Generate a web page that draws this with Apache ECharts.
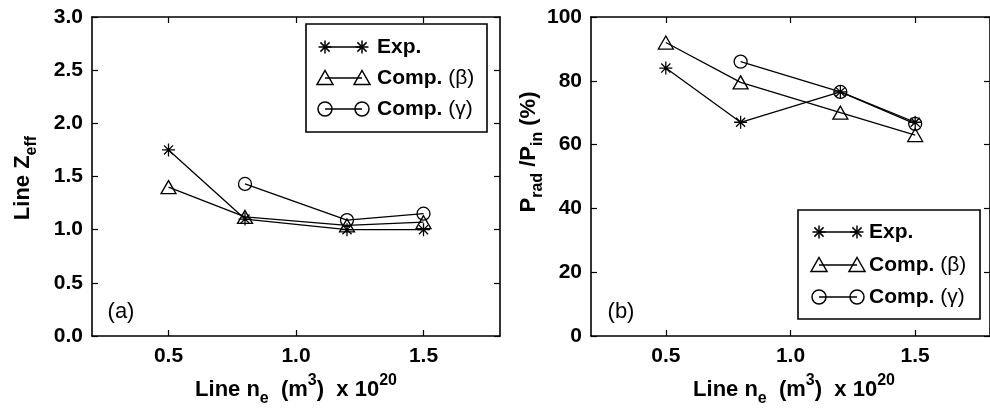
<!DOCTYPE html>
<html>
<head>
<meta charset="utf-8">
<script src="https://cdn.jsdelivr.net/npm/echarts@6/dist/echarts.min.js"></script>
<style>
  html, body { margin: 0; padding: 0; background: #fff; }
  #chart { width: 990px; height: 408px; }
</style>
</head>
<body>
<div id="chart"></div>
<script>
// line density (x 10^20 m^-3)
var neAll = [0.5, 0.8, 1.2, 1.5]
var neGamma = [0.8, 1.2, 1.5]
var xTicks = [0.5, 1.0, 1.5]

// (a) line Zeff
var zeffExp = [1.75, 1.10, 1.00, 1.00]
var zeffBeta = [1.40, 1.12, 1.04, 1.07]
var zeffGamma = [1.43, 1.09, 1.15]

// (b) Prad / Pin (%)
var pradExp = [84, 67, 76.5, 67]
var pradBeta = [92, 79.5, 70, 63]
var pradGamma = [86, 76.5, 66.5]

var legendNames = ['Exp.', 'Comp. ', 'Comp. ']
var legendGreek = ['', '(β)', '(γ)']

var FONT = '"Liberation Sans", Arial, Helvetica, sans-serif'
var BLACK = '#000'

var chart = echarts.init(document.getElementById('chart'), null, {renderer: 'canvas'})

const pairs = (xs, ys) => xs.map((x, i) => [x, ys[i]])

const makeX = (grid, bottom) => {
    return {
        type: 'value',
        gridIndex: grid,
        position: bottom ? 'bottom' : 'top',
        min: 0.2,
        max: 1.8,
        axisLine: {show: true, onZero: false, lineStyle: {color: BLACK, width: 1.6}},
        axisTick: {show: true, inside: true, length: 6, customValues: xTicks, lineStyle: {color: BLACK, width: 1.2}},
        axisLabel: {
            show: bottom,
            customValues: xTicks,
            margin: 10,
            color: BLACK,
            fontFamily: FONT,
            fontWeight: 'bold',
            fontSize: 21,
            formatter: v => v.toFixed(1)
        },
        splitLine: {show: false}
    }
}

const makeY = (grid, left, max, step, digits) => {
    return {
        type: 'value',
        gridIndex: grid,
        position: left ? 'left' : 'right',
        min: 0,
        max: max,
        interval: step,
        axisLine: {show: true, onZero: false, lineStyle: {color: BLACK, width: 1.6}},
        axisTick: {show: true, inside: true, length: 6, lineStyle: {color: BLACK, width: 1.2}},
        axisLabel: {
            show: left,
            margin: 9,
            color: BLACK,
            fontFamily: FONT,
            fontWeight: 'bold',
            fontSize: 21,
            formatter: v => v.toFixed(digits)
        },
        splitLine: {show: false}
    }
}

var STAR = 'path://M0,-10L0,10M-10,0L10,0M-7,-7L7,7M-7,7L7,-7'

const makeSeries = (name, xs, ys, xi, yi, symbol, size) => {
    return {
        name: name,
        type: 'line',
        xAxisIndex: xi,
        yAxisIndex: yi,
        data: pairs(xs, ys),
        symbol: symbol,
        symbolSize: size,
        showAllSymbol: true,
        lineStyle: {color: BLACK, width: 1.3},
        itemStyle: {color: 'transparent', borderColor: BLACK, borderWidth: 1.3},
        emphasis: {disabled: true},
        z: 3
    }
}

// hand drawn legend box, like the matlab one
const legendBox = (left, top, w, h, x1, x2, tx, rows) => {
    let kids = [{
        type: 'rect',
        shape: {x: left, y: top, width: w, height: h},
        style: {fill: '#fff', stroke: BLACK, lineWidth: 1.6},
        z: 10
    }]
    for (let r = 0; r < 3; r++) {
        let y = top + rows[r]
        let ax = left + x1
        let bx = left + x2
        kids.push({type: 'line', shape: {x1: ax, y1: y, x2: bx, y2: y}, style: {stroke: BLACK, lineWidth: 1.3}, z: 11})
        ;[ax, bx].forEach(cx => {
            if (r === 0) {
                let d = 6.5, e = 4.6
                kids.push({type: 'line', shape: {x1: cx, y1: y - d, x2: cx, y2: y + d}, style: {stroke: BLACK, lineWidth: 1.5}, z: 11})
                kids.push({type: 'line', shape: {x1: cx - d, y1: y, x2: cx + d, y2: y}, style: {stroke: BLACK, lineWidth: 1.5}, z: 11})
                kids.push({type: 'line', shape: {x1: cx - e, y1: y - e, x2: cx + e, y2: y + e}, style: {stroke: BLACK, lineWidth: 1.5}, z: 11})
                kids.push({type: 'line', shape: {x1: cx - e, y1: y + e, x2: cx + e, y2: y - e}, style: {stroke: BLACK, lineWidth: 1.5}, z: 11})
            } else if (r === 1) {
                kids.push({type: 'polygon', shape: {points: [[cx, y - 7.5], [cx + 8, y + 6.5], [cx - 8, y + 6.5]]}, style: {fill: 'none', stroke: BLACK, lineWidth: 1.5}, z: 11})
            } else {
                kids.push({type: 'circle', shape: {cx: cx, cy: y, r: 7}, style: {fill: 'none', stroke: BLACK, lineWidth: 1.5}, z: 11})
            }
        })
        kids.push({
            type: 'text',
            x: left + tx,
            y: y,
            style: {
                text: '{b|' + legendNames[r] + '}' + (legendGreek[r] ? '{g|' + legendGreek[r] + '}' : ''),
                align: 'left',
                verticalAlign: 'middle',
                rich: {
                    b: {fontFamily: FONT, fontWeight: 'bold', fontSize: 21, fill: BLACK},
                    g: {fontFamily: FONT, fontWeight: 'normal', fontSize: 21, fill: BLACK}
                }
            },
            z: 11
        })
    }
    return {type: 'group', children: kids}
}

var richTitle = {
    m: {fontFamily: FONT, fontWeight: 'bold', fontSize: 22, lineHeight: 34, fill: BLACK},
    sub: {fontFamily: FONT, fontWeight: 'bold', fontSize: 16, lineHeight: 15, verticalAlign: 'bottom', fill: BLACK},
    sup: {fontFamily: FONT, fontWeight: 'bold', fontSize: 16, lineHeight: 15, verticalAlign: 'top', fill: BLACK},
    sup2: {fontFamily: FONT, fontWeight: 'bold', fontSize: 16, lineHeight: 9, verticalAlign: 'top', fill: BLACK}
}

var xTitle = '{m|Line n}{sub|e}{m|  (m}{sup|3}{m|)  x 10}{sup2|20}'

const titleText = (x, y, text, rot) => {
    return {
        type: 'text',
        x: x,
        y: y,
        rotation: rot || 0,
        style: {text: text, align: 'center', verticalAlign: 'middle', rich: richTitle},
        z: 5
    }
}

const panelLabel = (x, y, t) => {
    return {
        type: 'text', x: x, y: y,
        style: {text: t, align: 'center', verticalAlign: 'middle', fontFamily: FONT, fontSize: 22, fill: BLACK},
        z: 5
    }
}

var option = {
    animation: false,
    backgroundColor: '#fff',
    grid: [
        {left: 92, top: 17, width: 408, height: 319},
        {left: 591, top: 17, width: 405, height: 319}
    ],
    xAxis: [makeX(0, true), makeX(0, false), makeX(1, true), makeX(1, false)],
    yAxis: [makeY(0, true, 3, 0.5, 1), makeY(0, false, 3, 0.5, 1), makeY(1, true, 100, 20, 0), makeY(1, false, 100, 20, 0)],
    series: [
        makeSeries('Exp.', neAll, zeffExp, 0, 0, STAR, 13),
        makeSeries('Comp. (β)', neAll, zeffBeta, 0, 0, 'triangle', [15, 13]),
        makeSeries('Comp. (γ)', neGamma, zeffGamma, 0, 0, 'circle', 13),
        makeSeries('Exp.', neAll, pradExp, 2, 2, STAR, 13),
        makeSeries('Comp. (β)', neAll, pradBeta, 2, 2, 'triangle', [15, 13]),
        makeSeries('Comp. (γ)', neGamma, pradGamma, 2, 2, 'circle', 13)
    ],
    graphic: [
        legendBox(306, 24, 181, 108, 19, 56, 71, [23, 54, 85]),
        legendBox(798, 210, 182, 109, 21, 59, 71, [22, 55, 87]),
        titleText(296, 390, xTitle),
        titleText(794, 390, xTitle),
        titleText(23, 178, '{m|Line Z}{sub|eff}', Math.PI / 2),
        titleText(529, 152, '{m|P}{sub|rad}{m| /P}{sub|in}{m| (%)}', Math.PI / 2),
        panelLabel(121, 312, '(a)'),
        panelLabel(621, 312, '(b)')
    ]
}

chart.setOption(option)
</script>
</body>
</html>
